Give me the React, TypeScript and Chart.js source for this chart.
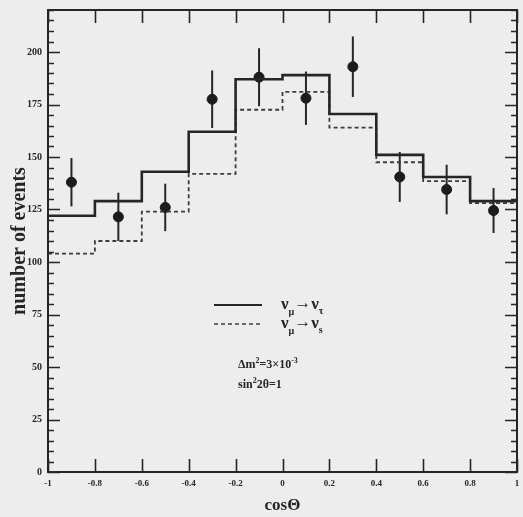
import React, { useEffect, useRef } from "react";
import { Chart, registerables } from "chart.js";

Chart.register(...registerables);

// Histogram bin edges in cos(theta) and predicted event counts per bin
const binEdges = [-1, -0.8, -0.6, -0.4, -0.2, 0, 0.2, 0.4, 0.6, 0.8, 1];
const tauCounts = [122, 129, 143, 162, 187, 189, 170.5, 151, 140.5, 129];
const sterileCounts = [104, 110, 124, 142, 172.5, 181, 164, 147.5, 138.5, 128];

// Measured events with statistical errors, at bin centres
const dataCos = [-0.9, -0.7, -0.5, -0.3, -0.1, 0.1, 0.3, 0.5, 0.7, 0.9];
const dataCounts = [138, 121.5, 126, 177.5, 188, 178, 193, 140.5, 134.5, 124.5];
const dataErrors = [11.5, 11.5, 11.3, 13.7, 13.8, 12.7, 14.4, 11.9, 11.8, 10.7];

// Axis ticks
const xTicks = [-1, -0.8, -0.6, -0.4, -0.2, 0, 0.2, 0.4, 0.6, 0.8, 1];
const xTickLabels = ["-1", "-0.8", "-0.6", "-0.4", "-0.2", "0", "0.2", "0.4", "0.6", "0.8", "1"];
const yTicks = [0, 25, 50, 75, 100, 125, 150, 175, 200];
const yTickLabels = ["0", "25", "50", "75", "100", "125", "150", "175", "200"];
const yMinorStep = 5;
const yMax = 220;

const INK = "#262626";
const SERIF = '"Liberation Serif", "DejaVu Serif", serif';

const stepPoints = (counts: number[]) =>
  binEdges.map((x, i) => ({ x, y: counts[Math.min(i, counts.length - 1)] }));

type Piece = { t: string; size: number; dy?: number };

function drawPieces(ctx: CanvasRenderingContext2D, x: number, y: number, pieces: Piece[]) {
  let cx = x;
  for (const p of pieces) {
    ctx.font = `bold ${p.size}px ${SERIF}`;
    ctx.fillText(p.t, cx, y + (p.dy || 0));
    cx += ctx.measureText(p.t).width;
  }
}

const backgroundPlugin = {
  id: "paperBackground",
  beforeDraw(chart: any) {
    const { ctx, width, height } = chart;
    ctx.save();
    ctx.fillStyle = "#ededed";
    ctx.fillRect(0, 0, width, height);
    ctx.restore();
  },
};

const errorBarPlugin = {
  id: "errorBars",
  beforeDatasetsDraw(chart: any) {
    const { ctx, scales } = chart;
    const xs = scales.x;
    const ys = scales.y;
    ctx.save();
    ctx.strokeStyle = INK;
    ctx.lineWidth = 2;
    dataCos.forEach((c, i) => {
      const px = xs.getPixelForValue(c);
      ctx.beginPath();
      ctx.moveTo(px, ys.getPixelForValue(dataCounts[i] - dataErrors[i]));
      ctx.lineTo(px, ys.getPixelForValue(dataCounts[i] + dataErrors[i]));
      ctx.stroke();
    });
    ctx.restore();
  },
};

const framePlugin = {
  id: "frameAndLabels",
  afterDraw(chart: any) {
    const { ctx, chartArea, scales } = chart;
    const { left, right, top, bottom } = chartArea;
    const xs = scales.x;
    const ys = scales.y;
    ctx.save();
    ctx.strokeStyle = INK;
    ctx.fillStyle = INK;

    // frame
    ctx.lineWidth = 2;
    ctx.strokeRect(left, top, right - left, bottom - top);

    // x ticks on bottom and top, pointing inward
    ctx.lineWidth = 1.6;
    xTicks.forEach((v) => {
      const px = Math.round(xs.getPixelForValue(v)) + 0.5;
      ctx.beginPath();
      ctx.moveTo(px, bottom);
      ctx.lineTo(px, bottom - 13);
      ctx.moveTo(px, top);
      ctx.lineTo(px, top + 13);
      ctx.stroke();
    });

    // y ticks on left and right, major every 25, minor every 5
    for (let v = 0; v <= yMax; v += yMinorStep) {
      const py = Math.round(ys.getPixelForValue(v)) + 0.5;
      const major = yTicks.includes(v);
      const len = major ? 12 : 6;
      ctx.lineWidth = major ? 1.6 : 1.3;
      ctx.beginPath();
      ctx.moveTo(left, py);
      ctx.lineTo(left + len, py);
      ctx.moveTo(right, py);
      ctx.lineTo(right - len, py);
      ctx.stroke();
    }

    // tick labels
    ctx.font = `bold 9px ${SERIF}`;
    ctx.textAlign = "center";
    ctx.textBaseline = "top";
    xTicks.forEach((v, i) => {
      ctx.fillText(xTickLabels[i], xs.getPixelForValue(v), bottom + 7);
    });
    ctx.font = `bold 10px ${SERIF}`;
    ctx.textAlign = "right";
    ctx.textBaseline = "middle";
    yTicks.forEach((v, i) => {
      ctx.fillText(yTickLabels[i], left - 6, ys.getPixelForValue(v));
    });

    // axis titles
    ctx.textAlign = "center";
    ctx.textBaseline = "alphabetic";
    ctx.font = `bold 17px ${SERIF}`;
    ctx.fillText("cosΘ", (left + right) / 2, 510);
    ctx.save();
    ctx.translate(25, (top + bottom) / 2);
    ctx.rotate(-Math.PI / 2);
    ctx.font = `bold 20px ${SERIF}`;
    ctx.fillText("number of events", 0, 0);
    ctx.restore();

    // legend
    ctx.lineWidth = 2;
    ctx.beginPath();
    ctx.moveTo(214, 305);
    ctx.lineTo(262, 305);
    ctx.stroke();
    ctx.setLineDash([4, 3]);
    ctx.lineWidth = 1.6;
    ctx.strokeStyle = "#3c3c3c";
    ctx.beginPath();
    ctx.moveTo(214, 324);
    ctx.lineTo(262, 324);
    ctx.stroke();
    ctx.setLineDash([]);

    ctx.textAlign = "left";
    drawPieces(ctx, 281, 309, [
      { t: "ν", size: 17 },
      { t: "μ", size: 10, dy: 6 },
      { t: "→", size: 17, dy: -1 },
      { t: "ν", size: 17 },
      { t: "τ", size: 10, dy: 5 },
    ]);
    drawPieces(ctx, 281, 328, [
      { t: "ν", size: 17 },
      { t: "μ", size: 10, dy: 6 },
      { t: "→", size: 17, dy: -1 },
      { t: "ν", size: 17 },
      { t: "s", size: 10, dy: 5 },
    ]);

    // oscillation parameters
    drawPieces(ctx, 238, 368, [
      { t: "Δm", size: 12 },
      { t: "2", size: 8, dy: -5 },
      { t: "=3×10", size: 12 },
      { t: "-3", size: 8, dy: -5 },
    ]);
    drawPieces(ctx, 238, 388, [
      { t: "sin", size: 12 },
      { t: "2", size: 8, dy: -5 },
      { t: "2θ=1", size: 12 },
    ]);

    ctx.restore();
  },
};

export default function App() {
  const canvasRef = useRef<HTMLCanvasElement | null>(null);

  useEffect(() => {
    const canvas = canvasRef.current;
    if (!canvas) return;
    const chart = new Chart(canvas, {
      type: "line",
      data: {
        datasets: [
          {
            label: "νμ→ντ",
            data: stepPoints(tauCounts),
            stepped: true,
            borderColor: INK,
            borderWidth: 2.6,
            pointRadius: 0,
            fill: false,
          },
          {
            label: "νμ→νs",
            data: stepPoints(sterileCounts),
            stepped: true,
            borderColor: "#3c3c3c",
            borderWidth: 1.8,
            borderDash: [4, 3],
            pointRadius: 0,
            fill: false,
          },
          {
            label: "data",
            data: dataCos.map((x, i) => ({ x, y: dataCounts[i] })),
            showLine: false,
            pointRadius: 5,
            pointBackgroundColor: "#1c1c1c",
            pointBorderColor: "#1c1c1c",
            pointBorderWidth: 1,
          },
        ],
      },
      options: {
        animation: false,
        responsive: false,
        maintainAspectRatio: false,
        layout: { padding: { left: 48, right: 2, top: 10, bottom: 45 } },
        scales: {
          x: { type: "linear", min: -1, max: 1, display: false },
          y: { type: "linear", min: 0, max: yMax, display: false },
        },
        plugins: {
          legend: { display: false },
          tooltip: { enabled: false },
        },
      },
      plugins: [backgroundPlugin, errorBarPlugin, framePlugin],
    });
    return () => chart.destroy();
  }, []);

  return (
    <div style={{ position: "fixed", left: 0, top: 0, width: 523, height: 517 }}>
      <canvas ref={canvasRef} width={523} height={517} style={{ display: "block" }} />
    </div>
  );
}
